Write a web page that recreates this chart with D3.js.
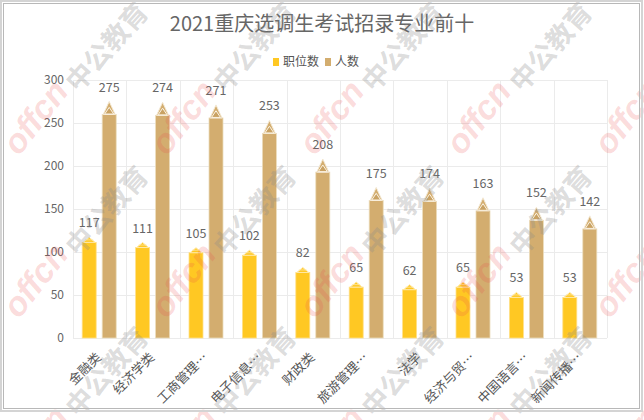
<!DOCTYPE html>
<html><head><meta charset="utf-8">
<script src="https://cdn.jsdelivr.net/npm/d3@7"></script>
<style>html,body{margin:0;padding:0;background:#fff;}svg{display:block;font-family:"Noto Sans CJK SC","Noto Sans",sans-serif;}</style>
</head><body>
<script>
const title = "2021重庆选调生考试招录专业前十";
const categories = ["金融类","经济学类","工商管理…","电子信息…","财政类","旅游管理…","法学","经济与贸…","中国语言…","新闻传播…"];
const seriesNames = ["职位数","人数"];
const positions = [117,111,105,102,82,65,62,65,53,53];
const applicants = [275,274,271,253,208,175,174,163,152,142];
const yTicks = [0,50,100,150,200,250,300];
const colors = ["#ffc823","#d3ad6f"];

const W = 644, H = 420;
const svg = d3.select("body").append("svg").attr("width", W).attr("height", H);
svg.append("rect").attr("width", W).attr("height", H).attr("fill", "#fff");

const m = {l:73, r:607, t:80, b:338};
const x = d3.scaleBand().domain(categories).range([m.l, m.r]).paddingInner(0).paddingOuter(0);
const y = d3.scaleLinear().domain([0,300]).range([m.b, m.t]);
const bw = 14, gap = 6;
const inner = d3.scaleBand().domain(seriesNames).range([0, 2*bw+gap]).paddingInner(gap/(bw+gap));
const off = (x.bandwidth() - (2*bw+gap))/2 - 0.5;

// grid
const g = svg.append("g");
g.selectAll("line.h").data(yTicks).join("line")
  .attr("x1", m.l).attr("x2", m.r).attr("y1", d=>y(d)+0.5).attr("y2", d=>y(d)+0.5)
  .attr("stroke", "#ebebeb");
const vb = categories.map(c=>x(c)).concat([m.r]);
g.selectAll("line.v").data(vb).join("line")
  .attr("x1", d=>Math.round(d)+0.5).attr("x2", d=>Math.round(d)+0.5).attr("y1", m.t).attr("y2", m.b)
  .attr("stroke", "#ebebeb");

// y axis labels
const yAxis = d3.axisLeft(y).tickValues(yTicks).tickSize(0).tickPadding(9);
const ya = svg.append("g").attr("transform", `translate(${m.l},0)`).call(yAxis);
ya.select(".domain").remove();
ya.selectAll("text").attr("fill","#666").attr("font-size",12).attr("font-family","Noto Sans CJK SC");

// x axis labels
const xAxis = d3.axisBottom(x).tickSize(0).tickPadding(0);
const xa = svg.append("g").attr("transform", `translate(0,${m.b})`).call(xAxis);
xa.select(".domain").remove();
xa.selectAll("text").attr("fill","#555").attr("font-size",13).attr("font-family","Noto Sans CJK SC")
  .attr("text-anchor","end").attr("dy","0.35em")
  .attr("transform","translate(-1,17) rotate(-45)");

// bars
const data = [positions, applicants];
const tipH = [5, 13];
data.forEach((vals, si) => {
  const gs = svg.append("g");
  vals.forEach((v, i) => {
    const x0 = x(categories[i]) + off + inner(seriesNames[si]);
    const x1 = x0 + bw, xc = x0 + bw/2;
    const apex = y(v), base = apex + tipH[si];
    gs.append("rect").attr("x", x0).attr("y", base).attr("width", bw).attr("height", y(0)-base)
      .attr("fill", colors[si]).attr("stroke", si ? "#ecdcbc" : "#ffe08a").attr("stroke-width", 0.8);
    gs.append("path").attr("d", `M${x0+1},${base}L${xc},${apex}L${x1-1},${base}Z`)
      .attr("fill", colors[si]).attr("stroke", si ? "#f4e9d4" : "#ffe9a8").attr("stroke-width", 1);
    if (si === 1) {
      const mid = apex + tipH[si]*0.45;
      gs.append("path").attr("d", `M${x0+2.5},${base-0.5}L${xc},${mid}L${x1-2.5},${base-0.5}Z`)
        .attr("fill", "#c9a263").attr("stroke", "#fbf3e4").attr("stroke-width", 1);
    } else {
      gs.append("line").attr("x1", x0+3).attr("x2", x1-3).attr("y1", apex+2.5).attr("y2", apex+2.5)
        .attr("stroke", "#ffe9a8").attr("stroke-width", 0.8);
    }
    gs.append("text").attr("x", xc).attr("y", apex - 10).attr("text-anchor","middle")
      .attr("fill","#666").attr("font-size",12.5).text(v);
  });
});

// title
svg.append("text").attr("x", 322).attr("y", 31).attr("text-anchor","middle")
  .attr("font-size",20).attr("fill","#666").text(title);

// legend
const lg = svg.append("g").attr("font-size",12).attr("fill","#555");
const legX = [273, 325];
seriesNames.forEach((n,i)=>{
  lg.append("rect").attr("x", legX[i]).attr("y", 58).attr("width",6).attr("height",8).attr("fill",colors[i]);
  lg.append("text").attr("x", legX[i]+10).attr("y", 62).attr("dy","0.35em").attr("fill","#555").text(n);
});

// watermark (decorative, drawn over the chart)
const wm = svg.append("g").attr("pointer-events","none");
const gx = [107, 255, 403, 551], gy = [47, 211, 372];
gy.forEach(yy => gx.forEach(xx => {
  wm.append("text").attr("transform", `translate(${xx},${yy}) rotate(-48)`)
    .attr("text-anchor","middle").attr("dy","0.35em").attr("font-size",27).attr("font-weight","bold")
    .attr("fill","#8a8a8a").attr("fill-opacity",0.3).text("中公教育");
}));
const rx = [35, 183, 331, 478, 626], ry = [117, 280, 443];
ry.forEach(yy => rx.forEach(xx => {
  wm.append("text").attr("transform", `translate(${xx},${yy}) rotate(-52)`)
    .attr("text-anchor","middle").attr("dy","0.35em").attr("font-size",34).attr("font-weight","bold")
    .attr("font-style","italic").attr("font-family","Liberation Sans, sans-serif")
    .attr("fill","#ea4a4a").attr("fill-opacity",0.2).text("offcn");
}));

// frame
svg.append("rect").attr("x",1).attr("y",1).attr("width",641).attr("height",410)
  .attr("fill","none").attr("stroke","#d4d4d4").attr("stroke-width",2);
svg.append("rect").attr("x",3.5).attr("y",3.5).attr("width",636).attr("height",405)
  .attr("fill","none").attr("stroke","#b8b8b8").attr("stroke-width",1);
</script>
</body></html>
